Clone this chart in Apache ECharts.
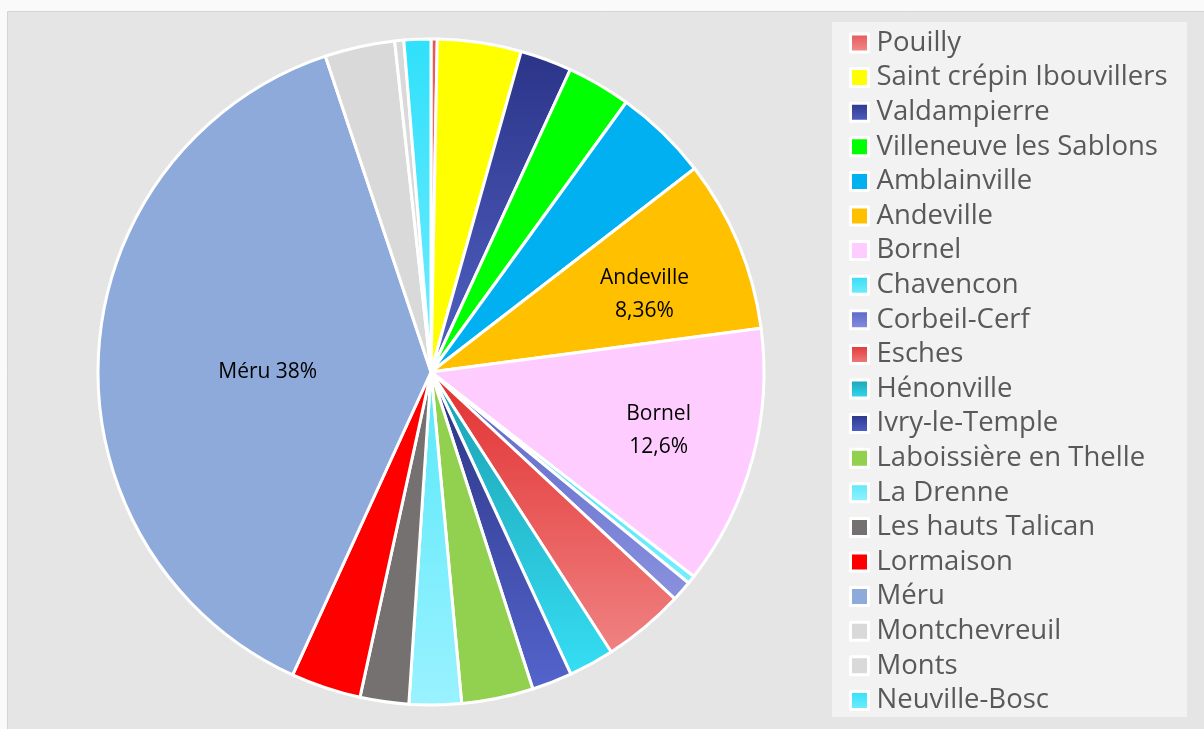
<!DOCTYPE html>
<html>
<head>
<meta charset="utf-8">
<script src="https://cdn.jsdelivr.net/npm/echarts@6/dist/echarts.min.js"></script>
<style>
  html, body { margin: 0; padding: 0; background: #fafafa; }
  #chart { width: 1204px; height: 729px; }
</style>
</head>
<body>
<div id="chart"></div>
<script>
  // communes, clockwise from 12 o'clock
  var communes = ['Pouilly', 'Saint crépin Ibouvillers', 'Valdampierre', 'Villeneuve les Sablons',
    'Amblainville', 'Andeville', 'Bornel', 'Chavencon', 'Corbeil-Cerf', 'Esches', 'Hénonville',
    'Ivry-le-Temple', 'Laboissière en Thelle', 'La Drenne', 'Les hauts Talican', 'Lormaison',
    'Méru', 'Montchevreuil', 'Monts', 'Neuville-Bosc']
  // share of the total, in %
  var shares = [0.3, 4.06, 2.5, 3.1, 4.56, 8.36, 12.6, 0.4, 1.0, 3.97, 2.2,
    1.95, 3.47, 2.53, 2.36, 3.39, 38.0, 3.39, 0.44, 1.3]
  // only three slices carry a label
  var labelTexts = {
    'Andeville': 'Andeville\n8,36%',
    'Bornel': 'Bornel\n12,6%',
    'Méru': 'Méru 38%'
  }

  // colours: [top, bottom] of the vertical gradient
  var colors = [
    ['#e65555', '#f29090'], ['#ffff00', '#ffff00'], ['#2b3488', '#5262c4'], ['#00ff00', '#00ff00'],
    ['#00b0f0', '#00b0f0'], ['#ffc000', '#ffc000'], ['#ffccff', '#ffccff'], ['#30dcf4', '#78eeff'],
    ['#5a66c8', '#8a92de'], ['#e23030', '#f08282'], ['#1a9fb0', '#36def4'], ['#2a3382', '#5464cc'],
    ['#92d050', '#92d050'], ['#58e8fa', '#9af2ff'], ['#767171', '#767171'], ['#ff0000', '#ff0000'],
    ['#8eaadb', '#8eaadb'], ['#d9d9d9', '#d9d9d9'], ['#d9d9d9', '#d9d9d9'], ['#30e0fa', '#72edff']
  ]
  var labelLayout = {
    'Andeville': {offset: [57, -12], align: 'left'},
    'Bornel': {offset: [64, 14], align: 'left'},
    'Méru': {offset: [6, 9], align: 'center'}
  }

  var chart = echarts.init(document.getElementById('chart'))

  var pieData = communes.map(function (name, i) {
    var item = {
      name: name,
      value: shares[i],
      itemStyle: {
        color: new echarts.graphic.LinearGradient(0, 0, 0, 1, [
          {offset: 0, color: colors[i][0]},
          {offset: 1, color: colors[i][1]}
        ])
      }
    }
    if (labelTexts[name]) {
      item.label = {
        show: true,
        position: 'inside',
        formatter: labelTexts[name],
        offset: labelLayout[name].offset,
        align: labelLayout[name].align
      }
    }
    return item
  })

  var option = {
    animation: false,
    backgroundColor: '#fafafa',
    graphic: [
      {
        type: 'rect', z: -10, silent: true,
        shape: {x: 7.5, y: 11.5, width: 1210, height: 730},
        style: {fill: '#e5e5e5', stroke: '#d4d4d4', lineWidth: 1}
      },
      {
        type: 'rect', z: -9, silent: true,
        shape: {x: 832, y: 22, width: 355, height: 695},
        style: {fill: '#f2f2f2'}
      }
    ],
    legend: {
      orient: 'vertical',
      left: 844,
      top: 24,
      itemWidth: 18,
      itemHeight: 18,
      itemGap: 6.6,
      icon: 'rect',
      selectedMode: false,
      itemStyle: {borderColor: '#ffffff', borderWidth: 3},
      textStyle: {
        color: '#595959',
        fontFamily: 'Open Sans',
        fontSize: 27.5,
        lineHeight: 28,
        padding: [0, 0, 0, 3]
      },
      data: communes
    },
    series: [
      {
        type: 'pie',
        center: [431, 372],
        radius: 333,
        startAngle: 90,
        clockwise: true,
        avoidLabelOverlap: false,
        emphasis: {disabled: true},
        itemStyle: {borderColor: '#ffffff', borderWidth: 3},
        label: {
          show: false,
          color: '#000000',
          fontFamily: 'Open Sans',
          fontSize: 21,
          lineHeight: 33
        },
        labelLine: {show: false},
        data: pieData
      }
    ]
  }
  chart.setOption(option)
</script>
</body>
</html>
